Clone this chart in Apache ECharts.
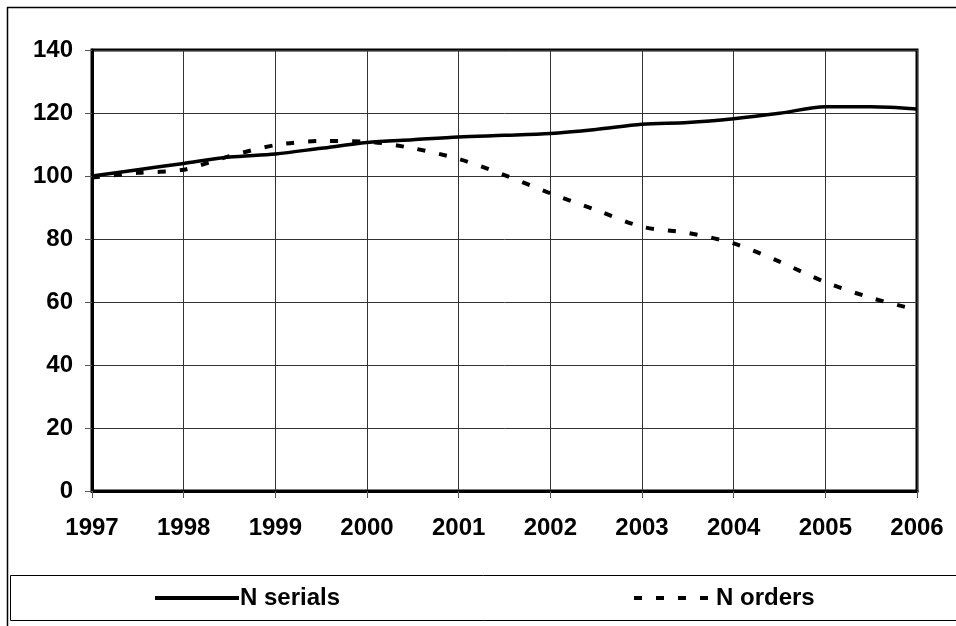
<!DOCTYPE html>
<html>
<head>
<meta charset="utf-8">
<script src="https://cdn.jsdelivr.net/npm/echarts@6/dist/echarts.min.js"></script>
<style>
  html, body { margin: 0; padding: 0; background: #fff; }
  #chart { width: 956px; height: 626px; }
</style>
</head>
<body>
<div id="chart"></div>
<script>
// years sampled every half year
const years = [1997, 1997.5, 1998, 1998.5, 1999, 1999.5, 2000, 2000.5, 2001, 2001.5,
  2002, 2002.5, 2003, 2003.5, 2004, 2004.5, 2005, 2005.5, 2006]
const serials = [100, 102, 104, 106, 107, 108.8, 110.6, 111.5, 112.4, 112.9,
  113.5, 114.8, 116.4, 117, 118.2, 119.9, 122, 122, 121.3]
const orders = [99.5, 101, 102, 106.3, 109.8, 111.1, 110.9, 108.8, 105.4, 100.3,
  94.5, 89.2, 83.9, 81.9, 78.6, 72.8, 66.3, 61.3, 57.5]
const seriesNames = ['N serials', 'N orders']

const pairs = (xs, ys) => xs.map((x, i) => [x, ys[i]])

const labelFont = { color: '#000', fontWeight: 'bold', fontFamily: 'Liberation Sans, Arial, sans-serif' }

const legendBase = {
  top: 586, itemHeight: 22, itemGap: 2, padding: 0,
  itemStyle: { opacity: 0 },
  textStyle: Object.assign({ fontSize: 24, padding: [0, 0, 0, -4] }, labelFont)
}

let chartDom = echarts.init(document.getElementById('chart'))
chartDom.setOption({
  animation: false,
  backgroundColor: '#fff',
  graphic: [
    // outer frame
    { type: 'rect', shape: { x: 7.5, y: 7.5, width: 970, height: 640 },
      style: { fill: 'none', stroke: '#000', lineWidth: 1.5 }, silent: true },
    // legend box
    { type: 'rect', shape: { x: 10.5, y: 575.5, width: 970, height: 45 },
      style: { fill: 'none', stroke: '#000', lineWidth: 1 }, silent: true }
  ],
  grid: {
    left: 92, right: 39, top: 50, bottom: 135,
    show: true, borderColor: '#000', borderWidth: 3
  },
  legend: [
    Object.assign({ data: [seriesNames[0]], left: 153, itemWidth: 84,
      lineStyle: { width: 4, color: '#000', type: 'solid' } }, legendBase),
    Object.assign({ data: [seriesNames[1]], left: 632, itemWidth: 81,
      lineStyle: { width: 4, color: '#000', type: [8, 14] } }, legendBase)
  ],
  xAxis: {
    type: 'value', min: 1997, max: 2006, interval: 1,
    axisLine: { lineStyle: { color: '#000', width: 3 } },
    axisTick: { show: true, length: 7, lineStyle: { color: '#555', width: 1 } },
    axisLabel: Object.assign({ fontSize: 24, margin: 25, formatter: v => String(v) }, labelFont),
    splitLine: { show: true, lineStyle: { color: '#333', width: 1 } }
  },
  yAxis: {
    type: 'value', min: 0, max: 140, interval: 20,
    axisLine: { show: true, lineStyle: { color: '#000', width: 3 } },
    axisTick: { show: true, length: 7, lineStyle: { color: '#555', width: 1 } },
    axisLabel: Object.assign({ fontSize: 24, margin: 19 }, labelFont),
    splitLine: { show: true, lineStyle: { color: '#333', width: 1 } }
  },
  series: [
    {
      name: seriesNames[0], type: 'line', data: pairs(years, serials),
      symbol: 'none', smooth: 0.3,
      lineStyle: { color: '#000', width: 3.5 }, itemStyle: { color: '#000' }
    },
    {
      name: seriesNames[1], type: 'line', data: pairs(years, orders),
      symbol: 'none', smooth: 0.3,
      lineStyle: { color: '#000', width: 4, type: [8, 14] }, itemStyle: { color: '#000' }
    }
  ]
})
</script>
</body>
</html>
